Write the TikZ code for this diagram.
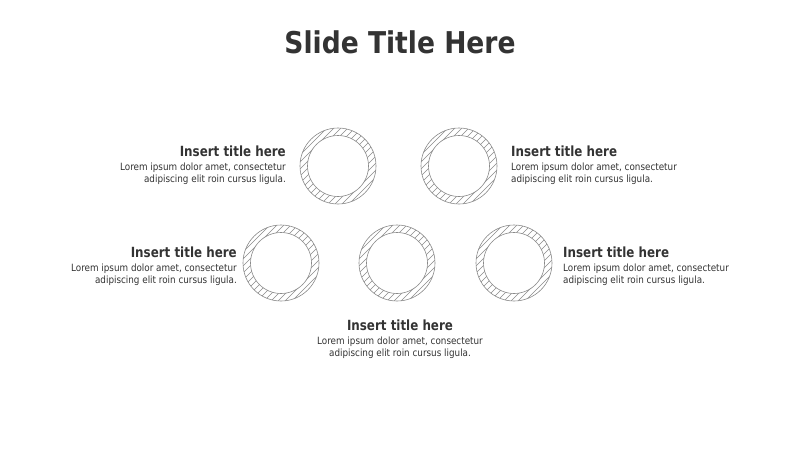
\documentclass[tikz,border=0pt]{standalone}
\usepackage{fontspec}
\setmainfont{DejaVu Sans}
\usetikzlibrary{calc}
\definecolor{txt}{HTML}{333333}
\definecolor{ringc}{HTML}{8A8A8A}
\tikzset{
  ringline/.style={draw=ringc, line width=0.6pt},
  hatch/.style={draw=ringc, line width=0.45pt},
  ttl/.style={text=txt, font=\bfseries\fontsize{14}{16}\selectfont, inner sep=0pt},
  body/.style={text=txt, font=\fontsize{10}{13}\selectfont, inner sep=0pt},
}
\newcommand{\ttlx}[1]{\scalebox{0.85}[1]{#1}}
\newcommand{\bodyx}[1]{\scalebox{0.88}[1]{#1}}
\begin{document}
\begin{tikzpicture}[x=1pt,y=-1pt]
\useasboundingbox (0,0) rectangle (800,450);
\node[text=txt, font=\bfseries\fontsize{30}{33}\selectfont, inner sep=0pt] (title) at (400,42) {\scalebox{0.885}[1]{Slide Title Here}};
% rings
\foreach \n/\x/\y in {r1/338/166, r2/459/166, r3/281/263, r4/397/263, r5/514/263}{
  \coordinate (\n) at (\x,\y);
  \begin{scope}[even odd rule]
    \clip (\x,\y) circle[radius=38] (\x,\y) circle[radius=30.5];
    \foreach \t in {-84,-77,...,84}{
      \draw[hatch] ($(\n)+(\t-45,45)$) -- ($(\n)+(\t+45,-45)$);
    }
  \end{scope}
  \draw[ringline] (\n) circle[radius=38];
  \draw[ringline] (\n) circle[radius=30.5];
}
% top-left
\node[ttl, anchor=base east] (t1) at (286,156) {\ttlx{Insert title here}};
\node[body, anchor=base east] (b1a) at (286,170) {\bodyx{Lorem ipsum dolor amet, consectetur}};
\node[body, anchor=base east] (b1b) at (286,182.5) {\bodyx{adipiscing elit roin cursus ligula.}};
% top-right
\node[ttl, anchor=base west] (t2) at (511,156) {\ttlx{Insert title here}};
\node[body, anchor=base west] (b2a) at (511,170) {\bodyx{Lorem ipsum dolor amet, consectetur}};
\node[body, anchor=base west] (b2b) at (511,182.5) {\bodyx{adipiscing elit roin cursus ligula.}};
% mid-left
\node[ttl, anchor=base east] (t3) at (237,257) {\ttlx{Insert title here}};
\node[body, anchor=base east] (b3a) at (237,271) {\bodyx{Lorem ipsum dolor amet, consectetur}};
\node[body, anchor=base east] (b3b) at (237,283.5) {\bodyx{adipiscing elit roin cursus ligula.}};
% mid-right
\node[ttl, anchor=base west] (t4) at (563,257) {\ttlx{Insert title here}};
\node[body, anchor=base west] (b4a) at (563,271) {\bodyx{Lorem ipsum dolor amet, consectetur}};
\node[body, anchor=base west] (b4b) at (563,283.5) {\bodyx{adipiscing elit roin cursus ligula.}};
% bottom
\node[ttl, anchor=base] (t5) at (400,330) {\ttlx{Insert title here}};
\node[body, anchor=base] (b5a) at (400,344) {\bodyx{Lorem ipsum dolor amet, consectetur}};
\node[body, anchor=base] (b5b) at (400,356) {\bodyx{adipiscing elit roin cursus ligula.}};
\end{tikzpicture}
\end{document}
